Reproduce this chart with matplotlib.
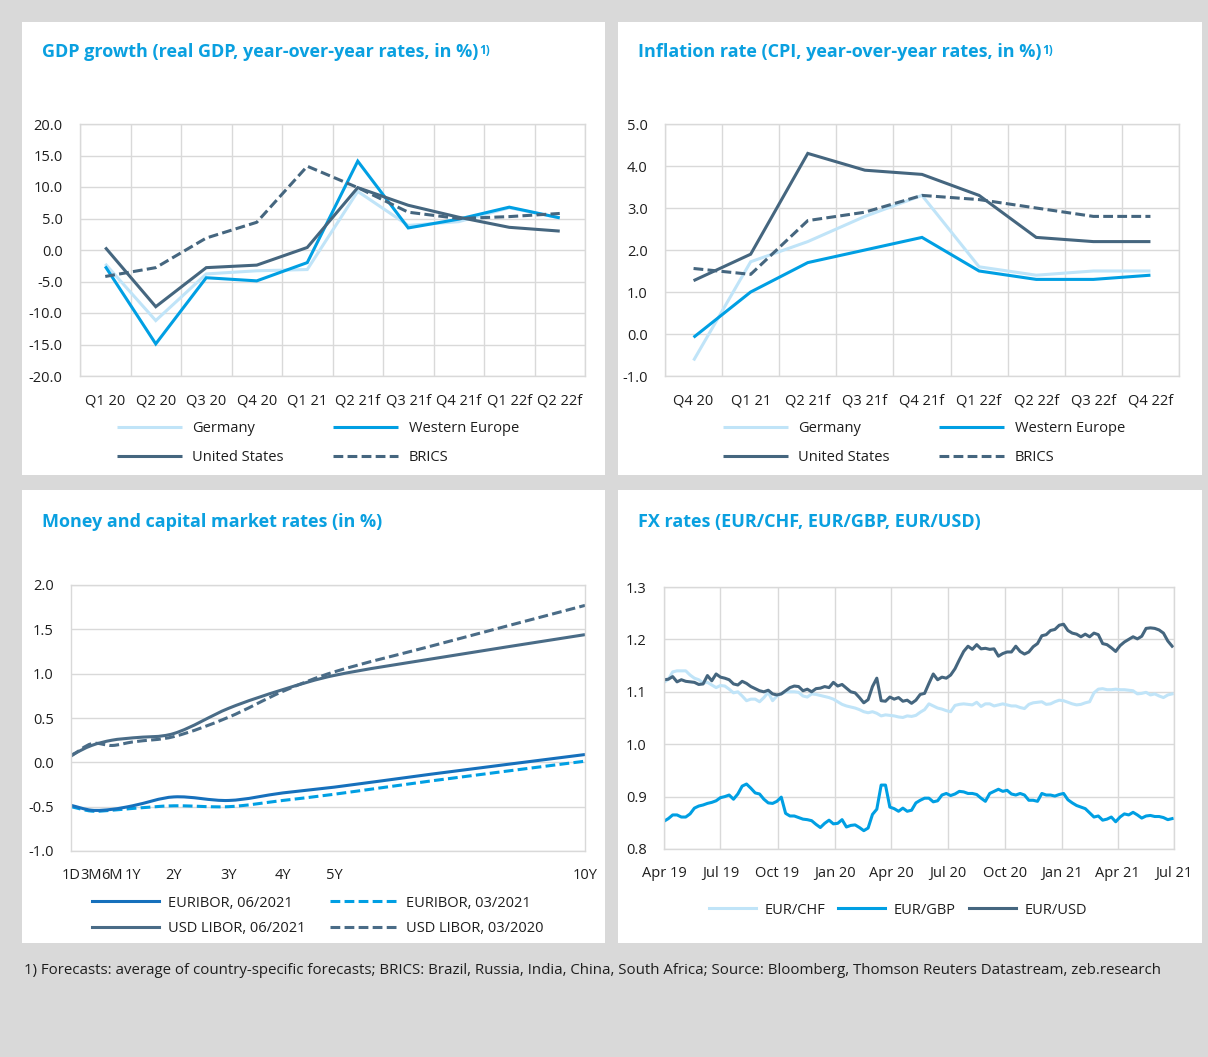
import matplotlib
matplotlib.use('Agg')
import matplotlib.pyplot as plt
from matplotlib.patches import Rectangle, PathPatch
from matplotlib.path import Path
from matplotlib.lines import Line2D
import numpy as np
import pandas as pd

# ---------------- data ----------------
gdp_quarters = ['Q1 20', 'Q2 20', 'Q3 20', 'Q4 20', 'Q1 21', 'Q2 21f', 'Q3 21f', 'Q4 21f', 'Q1 22f', 'Q2 22f']
gdp_germany = [-2.2, -11.2, -3.8, -3.3, -3.1, 9.3, 3.9, 4.5, 6.7, 5.1]
gdp_western_europe = [-2.6, -14.9, -4.4, -4.9, -2.0, 14.1, 3.5, 4.9, 6.8, 5.1]
gdp_united_states = [0.4, -9.0, -2.8, -2.4, 0.4, 9.9, 7.1, 5.2, 3.6, 3.0]
gdp_brics = [-4.2, -2.8, 1.9, 4.4, 13.3, 9.9, 6.0, 5.0, 5.3, 5.8]

cpi_quarters = ['Q4 20', 'Q1 21', 'Q2 21f', 'Q3 21f', 'Q4 21f', 'Q1 22f', 'Q2 22f', 'Q3 22f', 'Q4 22f']
cpi_germany = [-0.63, 1.72, 2.2, 2.8, 3.3, 1.6, 1.4, 1.5, 1.5]
cpi_western_europe = [-0.08, 1.0, 1.7, 2.0, 2.3, 1.5, 1.3, 1.3, 1.4]
cpi_united_states = [1.27, 1.9, 4.3, 3.9, 3.8, 3.3, 2.3, 2.2, 2.2]
cpi_brics = [1.56, 1.42, 2.7, 2.9, 3.3, 3.2, 3.0, 2.8, 2.8]

tenor_labels = ['1D', '3M', '6M', '1Y', '2Y', '3Y', '4Y', '5Y', '10Y']
tenor_label_x = [0, 0.4, 0.8, 1.2, 2.0, 3.07, 4.12, 5.12, 10]
tenor_x = [0, 0.4, 0.8, 1.2, 2.0, 3.07, 4.12, 5.12, 7.0, 10]
euribor_2106 = [-0.485, -0.54, -0.53, -0.49, -0.39, -0.43, -0.345, -0.28, -0.134, 0.088]
euribor_2103 = [-0.50, -0.55, -0.54, -0.52, -0.49, -0.50, -0.43, -0.36, -0.21, 0.013]
libor_2106 = [0.08, 0.19, 0.25, 0.276, 0.325, 0.61, 0.82, 0.98, 1.165, 1.44]
libor_2003 = [0.07, 0.21, 0.19, 0.23, 0.29, 0.51, 0.80, 1.02, 1.31, 1.77]

fx_start = '2019-04-01'
eur_usd = [1.123, 1.124, 1.129, 1.119, 1.123, 1.120, 1.119, 1.118, 1.114, 1.115,
           1.131, 1.121, 1.134, 1.128, 1.126, 1.123, 1.115, 1.113, 1.120, 1.116,
           1.110, 1.106, 1.102, 1.100, 1.103, 1.096, 1.094, 1.096, 1.102, 1.108,
           1.111, 1.110, 1.102, 1.105, 1.100, 1.106, 1.107, 1.110, 1.108, 1.118,
           1.111, 1.114, 1.107, 1.100, 1.098, 1.089, 1.079, 1.085, 1.110, 1.126,
           1.083, 1.082, 1.090, 1.086, 1.089, 1.082, 1.084, 1.078, 1.084, 1.095,
           1.097, 1.116, 1.134, 1.123, 1.128, 1.126, 1.132, 1.144, 1.161, 1.177,
           1.187, 1.181, 1.190, 1.182, 1.183, 1.181, 1.182, 1.168, 1.173, 1.176,
           1.176, 1.187, 1.177, 1.172, 1.176, 1.186, 1.192, 1.207, 1.209, 1.217,
           1.219, 1.227, 1.229, 1.217, 1.212, 1.210, 1.205, 1.210, 1.205, 1.212,
           1.209, 1.192, 1.190, 1.184, 1.177, 1.188, 1.195, 1.200, 1.205, 1.201,
           1.206, 1.221, 1.222, 1.221, 1.218, 1.212, 1.197, 1.187]
eur_chf = [1.118, 1.124, 1.138, 1.140, 1.140, 1.140, 1.132, 1.126, 1.123, 1.117,
           1.118, 1.113, 1.108, 1.112, 1.111, 1.105, 1.098, 1.100, 1.092, 1.083,
           1.086, 1.086, 1.081, 1.089, 1.099, 1.083, 1.092, 1.096, 1.100, 1.100,
           1.100, 1.099, 1.092, 1.090, 1.096, 1.095, 1.093, 1.091, 1.089, 1.086,
           1.081, 1.076, 1.073, 1.071, 1.069, 1.066, 1.062, 1.060, 1.062, 1.059,
           1.054, 1.056, 1.055, 1.054, 1.052, 1.051, 1.054, 1.053, 1.055, 1.061,
           1.066, 1.077, 1.073, 1.069, 1.067, 1.064, 1.062, 1.074, 1.076, 1.077,
           1.076, 1.075, 1.080, 1.072, 1.077, 1.077, 1.073, 1.075, 1.077, 1.075,
           1.073, 1.073, 1.070, 1.068, 1.076, 1.079, 1.080, 1.081, 1.076, 1.077,
           1.081, 1.084, 1.083, 1.080, 1.077, 1.075, 1.076, 1.079, 1.081, 1.098,
           1.105, 1.106, 1.104, 1.104, 1.105, 1.104, 1.104, 1.103, 1.102, 1.096,
           1.097, 1.099, 1.094, 1.096, 1.092, 1.089, 1.094, 1.096]
eur_gbp = [0.853, 0.858, 0.865, 0.865, 0.861, 0.861, 0.867, 0.878, 0.882, 0.884,
           0.887, 0.889, 0.892, 0.898, 0.900, 0.903, 0.895, 0.905, 0.920, 0.924,
           0.916, 0.907, 0.905, 0.895, 0.888, 0.887, 0.891, 0.899, 0.868, 0.863,
           0.863, 0.860, 0.857, 0.856, 0.854, 0.847, 0.841, 0.849, 0.855, 0.848,
           0.849, 0.856, 0.842, 0.845, 0.846, 0.841, 0.835, 0.840, 0.866, 0.876,
           0.922, 0.922, 0.880, 0.877, 0.872, 0.878, 0.872, 0.874, 0.888, 0.893,
           0.897, 0.897, 0.890, 0.892, 0.903, 0.906, 0.902, 0.905, 0.910, 0.909,
           0.906, 0.906, 0.904, 0.897, 0.891, 0.906, 0.910, 0.914, 0.910, 0.912,
           0.905, 0.903, 0.906, 0.903, 0.893, 0.893, 0.891, 0.906, 0.903, 0.903,
           0.901, 0.904, 0.906, 0.894, 0.888, 0.883, 0.880, 0.877, 0.869, 0.861,
           0.863, 0.855, 0.857, 0.861, 0.852, 0.861, 0.867, 0.865, 0.870, 0.865,
           0.859, 0.863, 0.864, 0.862, 0.862, 0.860, 0.856, 0.858]
fx_tick_dates = ['2019-04-01', '2019-07-01', '2019-10-01', '2020-01-01', '2020-04-01',
                 '2020-07-01', '2020-10-01', '2021-01-01', '2021-04-01', '2021-07-01']
fx_tick_labels = ['Apr 19', 'Jul 19', 'Oct 19', 'Jan 20', 'Apr 20', 'Jul 20', 'Oct 20', 'Jan 21', 'Apr 21', 'Jul 21']

footnote = ('1) Forecasts: average of country-specific forecasts; BRICS: Brazil, Russia, India, China, '
            'South Africa; Source: Bloomberg, Thomson Reuters Datastream, zeb.research')

# ---------------- style ----------------
W, H = 1208, 1057
plt.rcParams['font.family'] = ['Open Sans', 'DejaVu Sans']
plt.rcParams['axes.unicode_minus'] = False

BG = '#D9D9D9'
GRID = '#D9D9D9'
TXT = '#1E1E1E'
TITLE = '#0AA0E0'
C_LIGHT = '#C0E4F8'
C_BLUE = '#009FE3'
C_DARK = '#45667F'
C_MID = '#1670BC'
C_LIBOR = '#4A6C87'
FS = 10.5
LW = 2.2
DASH = (0, (3.2, 1.4))

fig = plt.figure(figsize=(W / 100, H / 100), dpi=100)
fig.patch.set_facecolor(BG)


def fx_(px):
    return px / W


def fy_(py):
    return 1 - py / H


panels = [(22, 22, 605, 475), (618, 22, 1202, 475), (22, 490, 605, 943), (618, 490, 1202, 943)]
for l, t, r, b in panels:
    fig.add_artist(Rectangle((fx_(l), fy_(b)), (r - l) / W, (b - t) / H, transform=fig.transFigure,
                             facecolor='white', edgecolor='none', zorder=-5))


def add_ax(l, t, r, b):
    ax = fig.add_axes([fx_(l), fy_(b), (r - l) / W, (b - t) / H])
    for s in ax.spines.values():
        s.set_color(GRID)
        s.set_linewidth(1.0)
    ax.tick_params(which='both', length=0, labelsize=FS, colors=TXT)
    ax.tick_params(axis='y', pad=12.5)
    ax.tick_params(axis='x', pad=12.5)
    ax.set_axisbelow(True)
    return ax


titles = [(42, 52, 'GDP growth (real GDP, year-over-year rates, in %)', True),
          (638, 52, 'Inflation rate (CPI, year-over-year rates, in %)', True),
          (42, 522, 'Money and capital market rates (in %)', False),
          (638, 522, 'FX rates (EUR/CHF, EUR/GBP, EUR/USD)', False)]
title_texts = []
for x, y, s, sup in titles:
    t = fig.text(fx_(x), fy_(y), s, color=TITLE, fontsize=13, fontweight='bold', ha='left', va='center')
    title_texts.append((t, sup))


def category_chart(ax, cats, series, ylim, ystep):
    n = len(cats)
    xs = np.arange(n)
    lines = []
    for vals, color, ls, label in series:
        ln, = ax.plot(xs, vals, color=color, lw=LW, linestyle=ls, label=label,
                      solid_joinstyle='miter', solid_capstyle='butt', dash_capstyle='butt')
        lines.append(ln)
    ax.set_xlim(-0.5, n - 0.5)
    ax.set_ylim(*ylim)
    ax.set_xticks(xs)
    ax.set_xticklabels(cats)
    ax.set_xticks(np.arange(-0.5, n), minor=True)
    ax.set_yticks(np.arange(ylim[0], ylim[1] + ystep / 2, ystep))
    ax.yaxis.set_major_formatter(matplotlib.ticker.FormatStrFormatter('%.1f'))
    ax.grid(which='minor', axis='x', color=GRID, lw=1.0)
    ax.grid(which='major', axis='y', color=GRID, lw=1.0)
    return lines


def rowwise(h):
    # matplotlib fills legend columns first; reorder so rows read left-to-right
    return [h[0], h[2], h[1], h[3]]


# ---- GDP ----
ax1 = add_ax(80, 124, 585, 376)
l1 = category_chart(ax1, gdp_quarters, [
    (gdp_germany, C_LIGHT, '-', 'Germany'),
    (gdp_western_europe, C_BLUE, '-', 'Western Europe'),
    (gdp_united_states, C_DARK, '-', 'United States'),
    (gdp_brics, C_DARK, DASH, 'BRICS')], (-20, 20), 5)
ax1.legend(handles=rowwise(l1), loc='center', bbox_to_anchor=(fx_(318), fy_(443)), bbox_transform=fig.transFigure,
           ncol=2, frameon=False, fontsize=FS, handlelength=4.45, handletextpad=0.7, columnspacing=3.4,
           labelspacing=0.95, borderpad=0, labelcolor=TXT)

# ---- CPI ----
ax2 = add_ax(665, 124, 1179, 376)
l2 = category_chart(ax2, cpi_quarters, [
    (cpi_germany, C_LIGHT, '-', 'Germany'),
    (cpi_western_europe, C_BLUE, '-', 'Western Europe'),
    (cpi_united_states, C_DARK, '-', 'United States'),
    (cpi_brics, C_DARK, DASH, 'BRICS')], (-1, 5), 1)
ax2.legend(handles=rowwise(l2), loc='center', bbox_to_anchor=(fx_(924), fy_(443)), bbox_transform=fig.transFigure,
           ncol=2, frameon=False, fontsize=FS, handlelength=4.45, handletextpad=0.7, columnspacing=3.4,
           labelspacing=0.95, borderpad=0, labelcolor=TXT)


# ---- money market ----
def smooth_path(x, y):
    x = np.asarray(x, float)
    y = np.asarray(y, float)
    n = len(x)
    m = np.empty(n)
    m[0] = (y[1] - y[0]) / (x[1] - x[0])
    m[-1] = (y[-1] - y[-2]) / (x[-1] - x[-2])
    m[1:-1] = (y[2:] - y[:-2]) / (x[2:] - x[:-2])
    verts = [(x[0], y[0])]
    codes = [Path.MOVETO]
    for i in range(n - 1):
        h = x[i + 1] - x[i]
        verts += [(x[i] + h / 3, y[i] + m[i] * h / 3), (x[i + 1] - h / 3, y[i + 1] - m[i + 1] * h / 3),
                  (x[i + 1], y[i + 1])]
        codes += [Path.CURVE4] * 3
    return Path(verts, codes)


ax3 = add_ax(71, 585, 585, 851)
mm_series = [(euribor_2106, C_MID, '-', 'EURIBOR, 06/2021'),
             (euribor_2103, C_BLUE, DASH, 'EURIBOR, 03/2021'),
             (libor_2106, C_LIBOR, '-', 'USD LIBOR, 06/2021'),
             (libor_2003, C_LIBOR, DASH, 'USD LIBOR, 03/2020')]
draw_order = [1, 0, 3, 2]
handles3 = []
for vals, color, ls, label in mm_series:
    handles3.append(Line2D([], [], color=color, lw=LW, linestyle=ls, label=label))
for i in draw_order:
    vals, color, ls, label = mm_series[i]
    ax3.add_patch(PathPatch(smooth_path(tenor_x, vals), fill=False, edgecolor=color, lw=LW,
                            linestyle=ls, capstyle='butt'))
ax3.set_xlim(0, 10)
ax3.set_ylim(-1, 2)
ax3.set_xticks(tenor_label_x)
ax3.set_xticklabels(tenor_labels)
ax3.set_yticks(np.arange(-1, 2.01, 0.5))
ax3.yaxis.set_major_formatter(matplotlib.ticker.FormatStrFormatter('%.1f'))
ax3.grid(which='major', axis='y', color=GRID, lw=1.0)
ax3.legend(handles=rowwise(handles3), loc='center', bbox_to_anchor=(fx_(318), fy_(916)), bbox_transform=fig.transFigure,
           ncol=2, frameon=False, fontsize=FS, handlelength=4.6, handletextpad=0.6, columnspacing=1.7,
           labelspacing=0.75, borderpad=0, labelcolor=TXT)

# ---- FX ----
ax4 = add_ax(664, 587, 1174, 849)
fx_dates = pd.date_range(fx_start, periods=len(eur_usd), freq='7D')
h4 = []
for vals, color, label in [(eur_chf, C_LIGHT, 'EUR/CHF'), (eur_gbp, C_BLUE, 'EUR/GBP'), (eur_usd, C_DARK, 'EUR/USD')]:
    ln, = ax4.plot(fx_dates, vals, color=color, lw=LW, label=label, solid_joinstyle='round')
    h4.append(ln)
ax4.set_xlim(pd.Timestamp(fx_tick_dates[0]), pd.Timestamp(fx_tick_dates[-1]))
ax4.set_ylim(0.8, 1.3)
ax4.set_xticks([pd.Timestamp(d) for d in fx_tick_dates])
ax4.set_xticklabels(fx_tick_labels)
ax4.set_yticks(np.arange(0.8, 1.301, 0.1))
ax4.yaxis.set_major_formatter(matplotlib.ticker.FormatStrFormatter('%.1f'))
ax4.grid(which='major', color=GRID, lw=1.0)
ax4.legend(handles=h4, loc='center', bbox_to_anchor=(fx_(898), fy_(910)), bbox_transform=fig.transFigure,
           ncol=3, frameon=False, fontsize=FS, handlelength=3.2, handletextpad=0.6, columnspacing=0.9,
           borderpad=0, labelcolor=TXT)

# ---- footnote ----
fig.text(fx_(24), fy_(970), footnote, fontsize=10.85, color=TXT, ha='left', va='center')

# superscripts after titles
fig.canvas.draw()
renderer = fig.canvas.get_renderer()
for t, sup in title_texts:
    if sup:
        bb = t.get_window_extent(renderer)
        fig.text((bb.x1 + 1) / W, (bb.y1 - 1) / H, '1)', color=TITLE, fontsize=8.5, fontweight='bold',
                 ha='left', va='top')

fig.savefig('out.png', dpi=100, facecolor=fig.get_facecolor())
